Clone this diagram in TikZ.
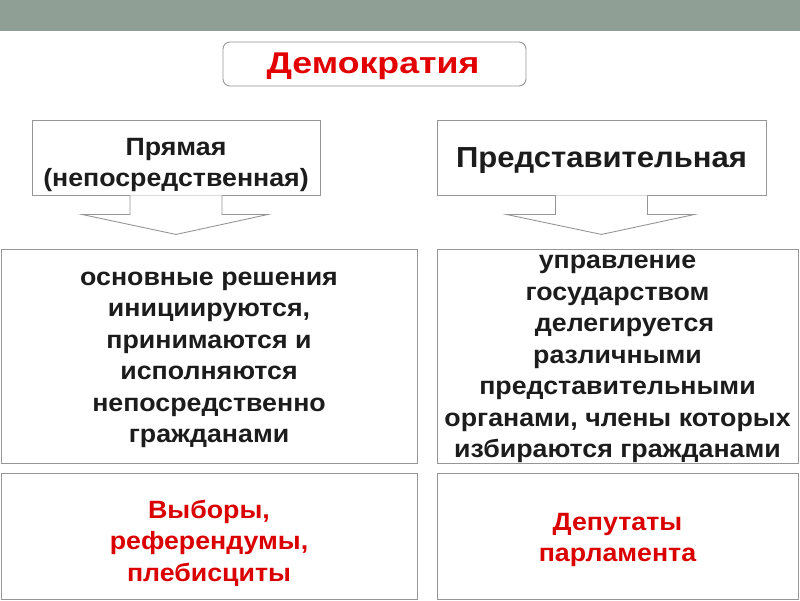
\documentclass[tikz,border=0pt]{standalone}
\usepackage{fontspec}
\setmainfont{Liberation Sans}[FakeStretch=1.07]
\newfontfamily\demfont{Liberation Sans}[FakeStretch=1.19]
\usetikzlibrary{calc}
\definecolor{bar}{RGB}{143,159,150}
\definecolor{edge}{RGB}{150,150,150}
\definecolor{txt}{RGB}{28,28,28}
\definecolor{demred}{RGB}{226,0,0}
\definecolor{redtxt}{RGB}{218,0,0}
\begin{document}
\begin{tikzpicture}[x=1pt,y=-1pt,
  box/.style={draw=edge, line width=0.9pt, fill=white, inner sep=0pt},
  lbl/.style={align=center, inner sep=0pt, text=txt, font=\bfseries\fontsize{25}{31.5}\selectfont},
  redlbl/.style={lbl, text=redtxt},
  blockarrow/.style={draw=edge, line width=0.9pt, fill=white, line join=miter}]
\useasboundingbox (0,0) rectangle (800,600);
\fill[bar] (0,0) rectangle (800,31);

% title
\node[box, rounded corners=7pt, minimum width=303pt, minimum height=44pt] (dem) at (374.5,64) {};
\node[lbl, text=demred, font=\demfont\bfseries\fontsize{30}{34}\selectfont] (demt) at (373,66) {Демократия};

% top boxes
\node[box, minimum width=288pt, minimum height=75pt] (pl) at (176,157.5) {};
\node[lbl] (plt) at (176,165) {Прямая\\(непосредственная)};
\node[box, minimum width=329pt, minimum height=75pt] (pr) at (601.5,157.5) {};
\node[lbl, font=\bfseries\fontsize{29}{34}\selectfont] (prt) at (601.5,161) {Представительная};

% middle boxes
\node[box, minimum width=416pt, minimum height=214pt] (ml) at (209,356) {};
\node[lbl] (mlt) at (209,360) {основные решения\\инициируются,\\принимаются и\\исполняются\\непосредственно\\гражданами};
\node[box, minimum width=361pt, minimum height=214pt] (mr) at (617.5,356) {};
\node[lbl] (mrt) at (617.5,359) {управление\\государством\\\hspace*{14pt}делегируется\\различными\\представительными\\органами, члены которых\\избираются гражданами};

% bottom boxes
\node[box, minimum width=416pt, minimum height=126pt] (bl) at (209,536) {};
\node[redlbl] (blt) at (209,543) {Выборы,\\референдумы,\\плебисциты};
\node[box, minimum width=361pt, minimum height=126pt] (br) at (617.5,536) {};
\node[redlbl] (brt) at (617.5,540) {Депутаты\\парламента};

% block arrows
\coordinate (al) at (pl.south);
\coordinate (ar) at (pr.south);
\path[blockarrow] ($(al)+(-46,0)$) -- ($(al)+(-46,19)$) -- ($(al)+(-94,19)$) -- ($(al)+(0,39)$) -- ($(al)+(92,19)$) -- ($(al)+(46,19)$) -- ($(al)+(46,0)$);
\path[blockarrow] ($(ar)+(-46,0)$) -- ($(ar)+(-46,19)$) -- ($(ar)+(-95,19)$) -- ($(ar)+(0,39)$) -- ($(ar)+(93,19)$) -- ($(ar)+(46,19)$) -- ($(ar)+(46,0)$);
\end{tikzpicture}
\end{document}
